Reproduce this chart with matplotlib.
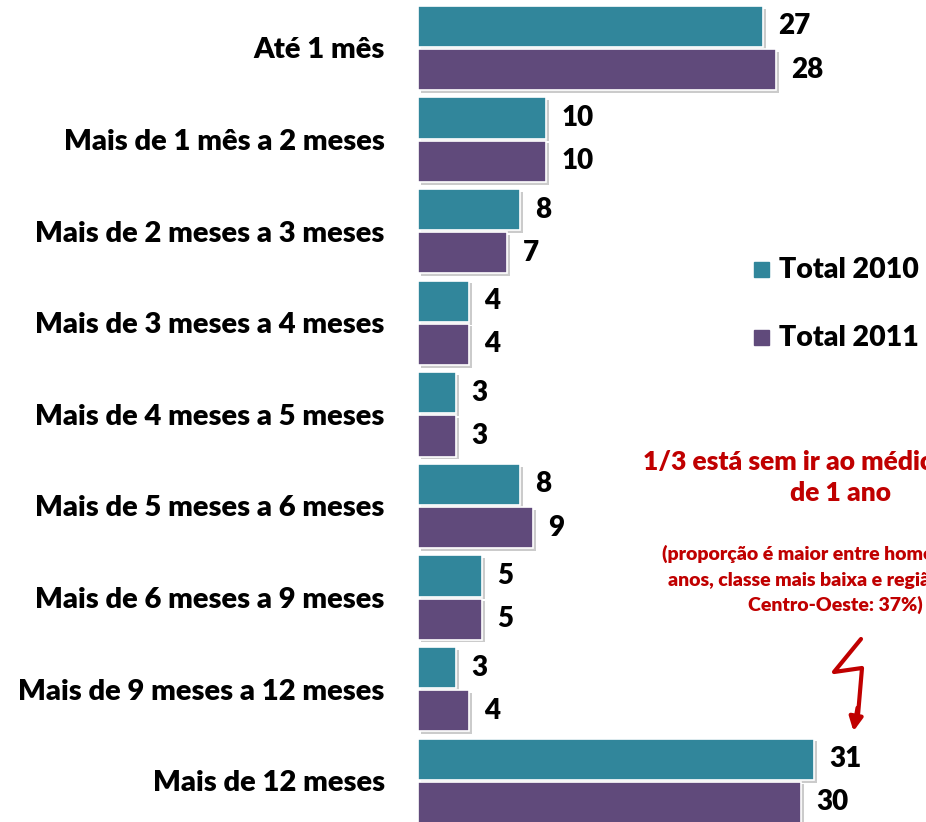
import numpy as np
import matplotlib.pyplot as plt
import matplotlib.patheffects as pe
from matplotlib.lines import Line2D

categories = [
    "Até 1 mês",
    "Mais de 1 mês a 2 meses",
    "Mais de 2 meses a 3 meses",
    "Mais de 3 meses a 4 meses",
    "Mais de 4 meses a 5 meses",
    "Mais de 5 meses a 6 meses",
    "Mais de 6 meses a 9 meses",
    "Mais de 9 meses a 12 meses",
    "Mais de 12 meses",
]
total_2010 = [27, 10, 8, 4, 3, 8, 5, 3, 31]
total_2011 = [28, 10, 7, 4, 3, 9, 5, 4, 30]
series_names = ["Total 2010", "Total 2011"]

teal = "#31869B"
purple = "#604A7B"
red = "#C00000"
WEIGHT = "heavy"

plt.rcParams["font.family"] = ["Lato", "DejaVu Sans"]

W, H = 926, 822
fig = plt.figure(figsize=(W / 100, H / 100), dpi=100)
ax = fig.add_axes([418 / W, 0, 1 - 418 / W, 1])

y = np.arange(len(categories))
h = 0.45
shadow = [pe.SimplePatchShadow(offset=(2, -2), shadow_rgbFace="#999999", alpha=0.5), pe.Normal()]
b1 = ax.barh(y - h / 2 - 0.01, total_2010, height=h, color=teal, edgecolor="white",
             linewidth=1.2, label=series_names[0])
b2 = ax.barh(y + h / 2 + 0.01, total_2011, height=h, color=purple, edgecolor="white",
             linewidth=1.2, label=series_names[1])
for bars in (b1, b2):
    for b in bars:
        b.set_path_effects(shadow)

for yi, v in zip(y - h / 2 - 0.01, total_2010):
    ax.text(v + 1.2, yi, str(v), va="center", ha="left", fontsize=20, fontweight=WEIGHT)
for yi, v in zip(y + h / 2 + 0.01, total_2011):
    ax.text(v + 1.2, yi, str(v), va="center", ha="left", fontsize=20, fontweight=WEIGHT)

ax.set_xlim(0, (W - 418) / 12.78)
ax.set_ylim(8.45, -0.524)
ax.set_yticks(y)
ax.set_yticklabels(categories, fontsize=21, fontweight=WEIGHT)
ax.tick_params(axis="y", length=0, pad=24)
ax.set_xticks([])
for s in ax.spines.values():
    s.set_visible(False)

# legend
for ypx, col, name in [(270, teal, series_names[0]), (338, purple, series_names[1])]:
    fig.patches.append(plt.Rectangle((754 / W, 1 - (ypx + 7) / H), 15 / W, 15 / H,
                                     transform=fig.transFigure, color=col))
    fig.text(779 / W, 1 - ypx / H, name, fontsize=20.5, fontweight=WEIGHT, va="center", ha="left")

# annotation
fig.text(643 / W, 1 - 462 / H, "1/3 está sem ir ao médico há mais", color=red,
         fontsize=19, fontweight=WEIGHT, va="center", ha="left")
fig.text(841 / W, 1 - 493 / H, "de 1 ano", color=red,
         fontsize=19, fontweight=WEIGHT, va="center", ha="center")
small = ["(proporção é maior entre homens, de 25 a 34",
         "anos, classe mais baixa e região Sul e",
         "Centro-Oeste: 37%)"]
fig.text(662 / W, 1 - 554 / H, small[0], color=red, fontsize=14, fontweight=WEIGHT, va="center", ha="left")
fig.text(668 / W, 1 - 580 / H, small[1], color=red, fontsize=14, fontweight=WEIGHT, va="center", ha="left")
fig.text(923 / W, 1 - 605 / H, small[2], color=red, fontsize=14, fontweight=WEIGHT, va="center", ha="right")

# squiggle arrow
xs = np.array([861, 834, 862, 858]) / W
ys = 1 - np.array([639, 672, 668, 715]) / H
fig.add_artist(Line2D(xs, ys, transform=fig.transFigure, color=red, lw=3,
                      solid_capstyle="round", solid_joinstyle="round"))
ax.annotate("", xy=(853 / W, 1 - 734 / H), xytext=(858 / W, 1 - 705 / H),
            xycoords="figure fraction", textcoords="figure fraction",
            arrowprops=dict(arrowstyle="-|>,head_length=0.8,head_width=0.4", color=red, lw=3))

fig.savefig("out.png", dpi=100)
